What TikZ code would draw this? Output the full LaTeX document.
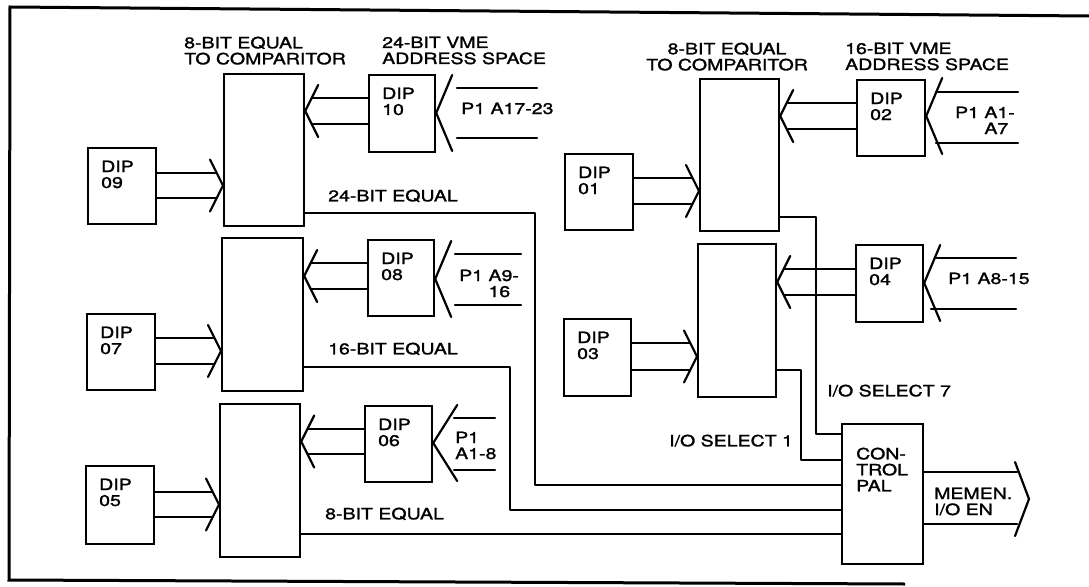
\documentclass[tikz,border=0pt]{standalone}
\usepackage{fontspec}
\usetikzlibrary{calc}
\newfontfamily\labfont[FakeStretch=1.26,FakeBold=1.5]{TeX Gyre Heros}
\tikzset{
  wire/.style={line width=2.2pt, line cap=round, line join=round},
  box/.style={draw, line width=2.2pt, anchor=north west, inner sep=0pt},
  lbl/.style={font=\labfont\fontsize{15.5}{16}\selectfont, inner sep=0pt, align=left, anchor=north west},
  chevL/.pic={\draw[wire] (-13,-26) -- (0,0) -- (-13,26);},
  chevR/.pic={\draw[wire] (13,-26) -- (0,0) -- (13,26);},
  busR/.pic={\draw[wire] (16,-38) -- (0,0) -- (16,38);},
  busL/.pic={\draw[wire] (-14,-37) -- (0,0) -- (-14,37);},
}
\begin{document}
\begin{tikzpicture}[x=1pt,y=-1pt]
\useasboundingbox (0,0) rectangle (1089,586);
\fill[white] (0,0) rectangle (1089,586);
% frame
\draw[line width=3pt, line join=miter] (1089,16) -- (10,7) -- (9,580) -- (905,584);

% comparators
\node[box, minimum width=80pt, minimum height=152pt] (c1) at (223,73) {};
\node[box, minimum width=81pt, minimum height=153pt] (c2) at (221,237) {};
\node[box, minimum width=80pt, minimum height=153pt] (c3) at (219,403) {};
\node[box, minimum width=79pt, minimum height=152pt] (c4) at (699,78) {};
\node[box, minimum width=78pt, minimum height=153pt] (c5) at (697,243) {};
\node[box, minimum width=81pt, minimum height=140pt] (pal) at (841,423) {};

% DIP switches
\node[box, minimum width=68pt, minimum height=76pt] (d09) at (87,147) {};
\node[box, minimum width=68pt, minimum height=76pt] (d07) at (86,313) {};
\node[box, minimum width=68pt, minimum height=78pt] (d05) at (85,465) {};
\node[box, minimum width=66pt, minimum height=77pt] (d10) at (368,74) {};
\node[box, minimum width=66pt, minimum height=76pt] (d08) at (367,239) {};
\node[box, minimum width=67pt, minimum height=76pt] (d06) at (364,405) {};
\node[box, minimum width=68pt, minimum height=76pt] (d01) at (564,153) {};
\node[box, minimum width=67pt, minimum height=77pt] (d03) at (563,318) {};
\node[box, minimum width=68pt, minimum height=76pt] (d02) at (856,79) {};
\node[box, minimum width=67pt, minimum height=77pt] (d04) at (855,244) {};

% DIP texts
\foreach \d/\n in {d09/09,d07/07,d05/05,d10/10,d08/08,d06/06,d01/01,d03/03,d02/02,d04/04}
  \node[lbl] (t\d) at ([xshift=14pt,yshift=-13.5pt]\d.north west) {DIP\\\n};

% left-side inputs to comparators
\foreach \s/\c/\ya/\yb in {d09/c1/173/198, d07/c2/338/364, d05/c3/492/517, d01/c4/178/204, d03/c5/343/370}{
  \draw[wire, shorten >=7pt] (\s.east |- 0,\ya) -- (\c.west |- 0,\ya);
  \draw[wire, shorten >=7pt] (\s.east |- 0,\yb) -- (\c.west |- 0,\yb);
  \pic at ($(\c.west |- 0,\ya)!0.5!(\c.west |- 0,\yb)$) {chevL};
}
% right-side inputs to comparators
\foreach \s/\c/\ya/\yb in {d10/c1/98/124, d08/c2/263/289, d06/c3/429/454, d02/c4/103/129, d04/c5/269/295}{
  \draw[wire, shorten >=7pt] (\s.west |- 0,\ya) -- (\c.east |- 0,\ya);
  \draw[wire, shorten >=7pt] (\s.west |- 0,\yb) -- (\c.east |- 0,\yb);
  \pic at ($(\c.east |- 0,\ya)!0.5!(\c.east |- 0,\yb)$) {chevR};
}

% VME bus chevrons on the DIP switches
\pic at (d10.east |- 0,113) {busR};
\pic at (d08.east |- 0,279) {busR};
\pic[xscale=1.5] at (d06.east |- 0,443) {busR};
\pic at (d02.east |- 0,116) {busR};
\pic at (d04.east |- 0,283) {busR};

% bus stubs
\draw[wire] (457,88) -- (537,88);  \draw[wire] (457,138) -- (537,138);
\draw[wire] (455,254) -- (521,254); \draw[wire] (455,305) -- (521,305);
\draw[wire] (454,418) -- (495,418); \draw[wire] (454,470) -- (495,470);
\draw[wire] (936,92) -- (1018,92);  \draw[wire] (936,143) -- (1018,143);
\draw[wire] (936,258) -- (1016,258); \draw[wire] (931,309) -- (1016,309);

% equal lines to the control PAL
\draw[wire] (c1.east |- 0,213) -| (535,485) -- (pal.west |- 0,485);
\draw[wire] (c2.east |- 0,367) -| (510,510) -- (pal.west |- 0,510);
\draw[wire] (c3.east |- 0,534) -- (pal.west |- 0,534);
\draw[wire] (c4.east |- 0,217) -| (816,434) -- (pal.west |- 0,434);
\draw[wire] (c5.east |- 0,370) -| (801,460) -- (pal.west |- 0,460);

% output
\coordinate (out) at (1029,499);
\draw[wire] (pal.east |- 0,472) -- (1017,472);
\draw[wire] (pal.east |- 0,524) -- (1017,524);
\pic at (out) {busL};

% labels
\node[lbl] (h1) at (184,36.5) {8-BIT EQUAL\\TO COMPARITOR};
\node[lbl] (h2) at (382,36.5) {24-BIT VME\\ADDRESS SPACE};
\node[lbl, align=center, anchor=north] (h3) at (727,42.5) {8-BIT EQUAL\\TO COMPARITOR};
\node[lbl] (h4) at (845,42.5) {16-BIT VME\\ADDRESS SPACE};

\node[lbl] (p1) at (461,102.5) {P1 A17-23};
\node[lbl] (p2) at (459,269.5) {P1 A9-\\\phantom{P1 }16};
\node[lbl] (p3) at (455,431.5) {P1\\A1-8};
\node[lbl, align=right, anchor=north east] (p4) at (1015,106.5) {P1 A1-\\A7\phantom{-}};
\node[lbl] (p5) at (948,272.5) {P1 A8-15};

\node[lbl] (e24) at (328,189.5) {24-BIT EQUAL};
\node[lbl] (e16) at (328,342.5) {16-BIT EQUAL};
\node[lbl] (e8) at (325,507.5) {8-BIT EQUAL};
\node[lbl] (s7) at (827,384.5) {I/O SELECT 7};
\node[lbl] (s1) at (669,434.5) {I/O SELECT 1};
\node[lbl] (palt) at (856,447.5) {CON-\\TROL\\PAL};
\node[lbl] (outt) at (934,487.5) {MEMEN.\\I/O EN};
\end{tikzpicture}
\end{document}
